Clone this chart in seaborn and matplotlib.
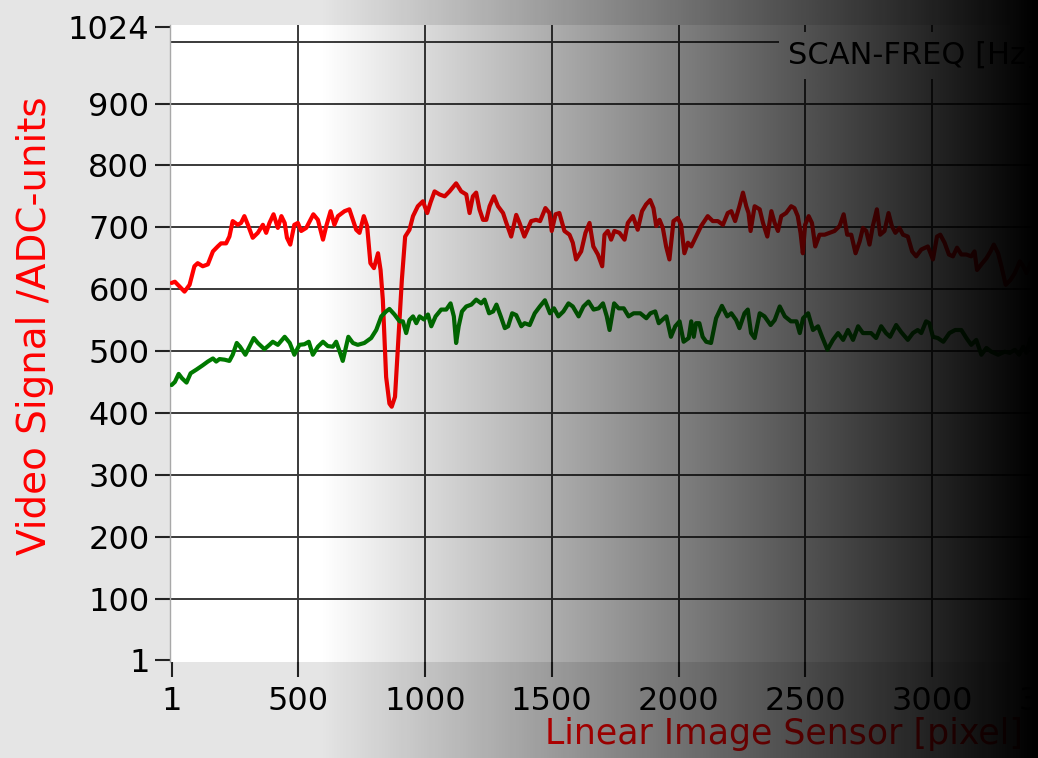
import numpy as np
import matplotlib
matplotlib.use('Agg')
import matplotlib.pyplot as plt
import seaborn as sns

# ---- data ----
red_x = [1, 14, 52, 72, 91, 104, 124, 144, 164, 183, 196, 216, 229, 242, 262, 275, 288, 302, 321, 341,
         361, 374, 387, 403, 420, 434, 447, 456, 469, 485, 499, 512, 532, 560, 578, 598, 611, 628, 643, 657,
         683, 702, 729, 742, 759, 772, 785, 799, 815, 825, 834, 847, 860, 869, 882, 896, 909, 922, 939, 953,
         972, 992, 1009, 1022, 1038, 1058, 1078, 1097, 1123, 1143, 1163, 1176, 1189, 1202, 1215, 1229, 1242,
         1255, 1272, 1288, 1308, 1321, 1340, 1360, 1373, 1392, 1419, 1438, 1454, 1475, 1491, 1500, 1515, 1530,
         1550, 1570, 1583, 1596, 1616, 1633, 1649, 1664, 1682, 1699, 1708, 1721, 1734, 1747, 1767, 1787, 1800,
         1820, 1839, 1856, 1872, 1888, 1901, 1912, 1925, 1938, 1951, 1964, 1980, 1997, 2010, 2023, 2037, 2050,
         2069, 2089, 2115, 2135, 2155, 2175, 2194, 2208, 2223, 2240, 2254, 2267, 2276, 2284, 2300, 2320, 2333,
         2350, 2366, 2379, 2392, 2405, 2424, 2444, 2457, 2470, 2481, 2490, 2499, 2513, 2526, 2539, 2556, 2576,
         2596, 2615, 2635, 2651, 2665, 2681, 2698, 2714, 2727, 2740, 2753, 2766, 2782, 2795, 2812, 2828, 2841,
         2855, 2871, 2885, 2904, 2921, 2937, 2957, 2983, 3003, 3019, 3032, 3049, 3066, 3082, 3098, 3115, 3135,
         3154, 3167, 3177, 3194, 3214, 3230, 3243, 3260, 3273, 3290, 3309, 3326, 3346, 3359, 3372, 3388, 3405,
         3424]
red_y = [610, 612, 596, 607, 637, 642, 637, 640, 661, 669, 674, 674, 685, 710, 704, 707, 718, 704, 683, 691,
         704, 691, 707, 721, 699, 718, 707, 683, 672, 704, 707, 694, 699, 721, 712, 680, 702, 726, 704, 718,
         726, 729, 696, 691, 718, 702, 642, 634, 658, 631, 583, 458, 415, 410, 426, 523, 615, 685, 696, 718,
         734, 742, 723, 740, 758, 753, 750, 758, 771, 758, 753, 723, 750, 756, 729, 712, 712,
         734, 750, 734, 723, 707, 685, 720, 707, 685, 710, 712, 710, 731, 723, 694, 721, 723,
         694, 688, 675, 648, 661, 691, 707, 669, 656, 637, 688, 694, 680, 694, 691, 680, 707,
         718, 696, 726, 737, 744, 731, 702, 712, 699, 669, 648, 710, 715, 704, 658, 675, 669,
         685, 702, 718, 710, 710, 704, 723, 726, 710, 734, 756, 734, 723, 694, 734, 729, 707,
         685, 726, 707, 694, 718, 723, 734, 731, 718, 691, 658, 704, 718, 707, 669, 688, 688,
         691, 694, 702, 721, 688, 688, 658, 677, 699, 694, 672, 702, 729, 688, 694, 723, 702,
         691, 699, 688, 685, 661, 653, 664, 669, 648, 685, 688, 675, 656, 653, 667, 656, 656,
         653, 661, 631, 640, 650, 661, 672, 658, 637, 607, 615, 626, 645, 637, 626, 642, 650,
         642]

green_x = [1, 14, 29, 42, 60, 76, 99, 124, 144, 164, 177, 190, 210, 229, 242, 258, 271, 292, 308, 325,
           341, 367, 387, 400, 420, 447, 467, 485, 505, 525, 542, 558, 578, 598, 617, 637, 650, 663, 676, 698,
           716, 735, 761, 788, 808, 828, 847, 860, 880, 900, 913, 926, 939, 953, 966, 979, 996, 1012, 1025,
           1042, 1064, 1084, 1101, 1114, 1123, 1133, 1146, 1163, 1183, 1202, 1222, 1235, 1253, 1269, 1282,
           1299, 1315, 1328, 1344, 1360, 1380, 1393, 1413, 1433, 1453, 1473, 1493, 1509, 1526, 1546, 1566,
           1583, 1606, 1625, 1645, 1665, 1685, 1702, 1717, 1728, 1746, 1764, 1784, 1803, 1823, 1849, 1873,
           1889, 1908, 1922, 1935, 1952, 1970, 1987, 2004, 2020, 2040, 2050, 2060, 2069, 2082, 2095, 2109,
           2128, 2148, 2171, 2192, 2208, 2227, 2240, 2260, 2273, 2286, 2300, 2320, 2339, 2363, 2379, 2399,
           2419, 2443, 2465, 2478, 2491, 2511, 2530, 2550, 2566, 2587, 2609, 2629, 2649, 2668, 2688, 2708,
           2727, 2740, 2759, 2779, 2799, 2818, 2834, 2858, 2877, 2904, 2924, 2943, 2957, 2976, 2989, 3003,
           3022, 3044, 3068, 3091, 3115, 3135, 3154, 3174, 3194, 3214, 3233, 3260, 3286, 3306, 3326, 3343,
           3359, 3372, 3388, 3405, 3424]
green_y = [445, 450, 463, 456, 449, 464, 470, 477, 483, 488, 483, 487, 486, 484, 494, 513, 507, 494, 507, 521,
           513, 503, 510, 515, 510, 523, 513, 494, 510, 511, 515, 494, 507, 515, 508, 507, 515, 500, 484, 523,
           513, 510, 513, 521, 534, 556, 564, 568, 559, 548, 548, 529, 550, 556, 545, 556, 551, 559, 540,
           556, 567, 567, 577, 556, 513, 540, 564, 572, 575, 583, 577, 583, 561, 564, 575,
           556, 537, 540, 561, 558, 540, 545, 542, 561, 572, 582, 561, 569, 556, 564, 577,
           572, 556, 572, 580, 567, 569, 577, 556, 534, 577, 569, 569, 556, 561, 561, 553,
           561, 564, 545, 550, 556, 523, 540, 548, 515, 521, 548, 523, 545, 545, 523, 515,
           513, 553, 573, 556, 561, 550, 537, 561, 567, 529, 521, 561, 556, 542, 550, 572,
           556, 548, 548, 529, 553, 561, 534, 540, 523, 502, 518, 529, 518, 534, 518, 540,
           529, 529, 529, 521, 540, 529, 523, 542, 531, 518, 529, 534, 529, 548, 545, 523,
           521, 515, 529, 534, 534, 521, 510, 518, 494, 505, 499, 494, 499, 497, 502, 494,
           507, 497, 521, 502, 512]

x_ticks = [1, 500, 1000, 1500, 2000, 2500, 3000, 3500]
x_grid = [500, 1000, 1500, 2000, 2500, 3000, 3500]
y_ticks = [1, 100, 200, 300, 400, 500, 600, 700, 800, 900, 1024]
y_grid = [100, 200, 300, 400, 500, 600, 700, 800, 900, 1000]

x_label = 'Linear Image Sensor [pixel]'
y_label = 'Video Signal /ADC-units'
info_text = 'SCAN-FREQ [Hz]'

# ---- style ----
sns.set_style('white')
plt.rcParams['font.family'] = ['DejaVu Sans']

fig = plt.figure(figsize=(10.38, 7.58), dpi=100, facecolor='#e5e5e5')
ax = fig.add_axes([0.16407, 0.1263, 0.8923, 0.8408])
ax.set_facecolor('white')

sns.lineplot(x=red_x, y=red_y, color='#ff0000', lw=3.0, ax=ax, estimator=None, zorder=3)
sns.lineplot(x=green_x, y=green_y, color='#007a00', lw=3.0, ax=ax, estimator=None, zorder=3)

ax.set_xlim(-4, 3648)
ax.set_ylim(-3, 1027)

ax.xaxis.remove_overlapping_locs = False
ax.yaxis.remove_overlapping_locs = False

ax.set_xticks(x_ticks)
ax.set_xticklabels([str(v) for v in x_ticks])
ax.set_xticks(x_grid, minor=True)
ax.set_yticks(y_ticks)
ax.set_yticklabels([str(v) for v in y_ticks])
ax.set_yticks(y_grid, minor=True)

ax.grid(False, which='major')
ax.grid(True, which='minor', color='#3a3a3a', lw=1.4)
ax.set_axisbelow(True)

ax.tick_params(which='major', direction='out', length=11, width=1.5, color='#222222',
               labelsize=23, labelcolor='black')
ax.tick_params(axis='x', which='major', pad=6, bottom=True)
ax.tick_params(axis='y', which='major', pad=4, left=True)
ax.tick_params(which='minor', length=0)

for s in ['top', 'right', 'bottom']:
    ax.spines[s].set_visible(False)
ax.spines['left'].set_color('#a8a8a8')
ax.spines['left'].set_linewidth(1.0)

ax.set_ylabel(y_label, color='#ff0000', fontsize=28)
ax.yaxis.label.set_ha('left')
ax.yaxis.set_label_coords(-0.1256, 0.168)

ax.set_xlabel(x_label, color='#ff0000', fontsize=25)
ax.xaxis.label.set_ha('left')
ax.xaxis.set_label_coords(0.4046, -0.0858)

ax.text(2432, 978, info_text, fontsize=22, color='black', ha='left', va='center',
        bbox=dict(facecolor='white', edgecolor='none', boxstyle='square,pad=0.3'),
        zorder=4, clip_on=False)

# ---- darkening gradient over the whole picture ----
W = 1038
px = np.arange(W)
f = np.clip((1032 - px) / (1032 - 320), 0, 1)
rgba = np.zeros((1, W, 4))
rgba[..., 3] = 1 - f
ov = fig.add_axes([0, 0, 1, 1], zorder=10)
ov.imshow(rgba, aspect='auto', extent=[0, 1, 0, 1], interpolation='bilinear')
ov.axis('off')

fig.savefig('out.png', dpi=100, facecolor=fig.get_facecolor())
